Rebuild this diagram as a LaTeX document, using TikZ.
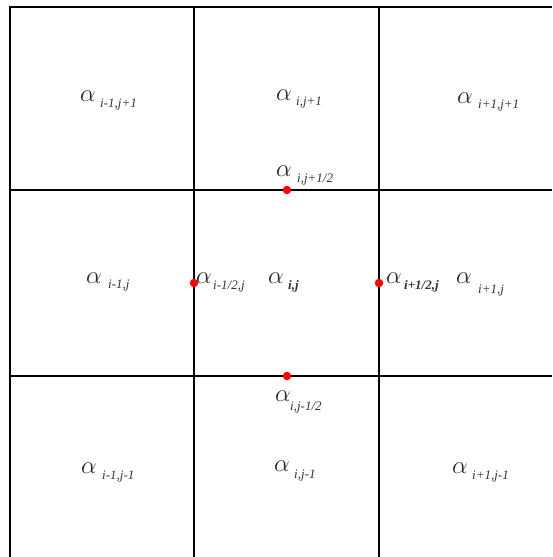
\documentclass[tikz,border=0pt]{standalone}
\usepackage{fontspec}
\setmainfont{Liberation Serif}
\begin{document}
\begin{tikzpicture}[x=1pt,y=-1pt,
  gridline/.style={line width=2.4pt,black},
  alph/.style={inner sep=0pt,anchor=base west,font=\fontsize{30}{30}\selectfont,text=black!85},
  subs/.style={inner sep=0pt,anchor=base west,font=\fontsize{13}{13}\selectfont\itshape,text=black!80},
  reddot/.style={circle,fill=red,inner sep=0pt,minimum size=8.5pt}]
\useasboundingbox (0,0) rectangle (552,557);
% grid
\coordinate (tl) at (10,7);
\coordinate (tr) at (552,7);
\coordinate (bl) at (10,557);
\draw[gridline] (tr) -- (tl) -- (bl);
\draw[gridline] (194,7) -- (194,557);
\draw[gridline] (379,7) -- (379,557);
\draw[gridline] (10,190) -- (552,190);
\draw[gridline] (10,376) -- (552,376);
% dots
\node[reddot] (dt) at (287,190) {};
\node[reddot] (dl) at (194,283) {};
\node[reddot] (dr) at (379,283) {};
\node[reddot] (db) at (287,376) {};
% labels
\node[alph] (a1) at (80,101) {$\alpha$};  \node[subs] (s1) at (100,107) {i-1,j+1};
\node[alph] (a2) at (276,100) {$\alpha$}; \node[subs] (s2) at (296,105) {i,j+1};
\node[alph] (a3) at (457,103) {$\alpha$}; \node[subs] (s3) at (478,108) {i+1,j+1};
\node[alph] (a4) at (276,176) {$\alpha$}; \node[subs] (s4) at (297,182) {i,j+1/2};
\node[alph] (a5) at (86,283) {$\alpha$};  \node[subs] (s5) at (108,288) {i-1,j};
\node[alph] (a6) at (196,283) {$\alpha$}; \node[subs] (s6) at (213,289) {i-1/2,j};
\node[alph] (a7) at (268,283) {$\alpha$}; \node[subs] (s7) at (288,289) {\bfseries i,j};
\node[alph] (a8) at (386,283) {$\alpha$}; \node[subs] (s8) at (404,289) {\bfseries i+1/2,j};
\node[alph] (a9) at (456,283) {$\alpha$}; \node[subs] (s9) at (478,293) {i+1,j};
\node[alph] (a10) at (275,401) {$\alpha$}; \node[subs] (s10) at (290,410) {i,j-1/2};
\node[alph] (a11) at (81,473) {$\alpha$}; \node[subs] (s11) at (102,479) {i-1,j-1};
\node[alph] (a12) at (274,471) {$\alpha$}; \node[subs] (s12) at (294,478) {i,j-1};
\node[alph] (a13) at (452,473) {$\alpha$}; \node[subs] (s13) at (472,479) {i+1,j-1};
\end{tikzpicture}
\end{document}
